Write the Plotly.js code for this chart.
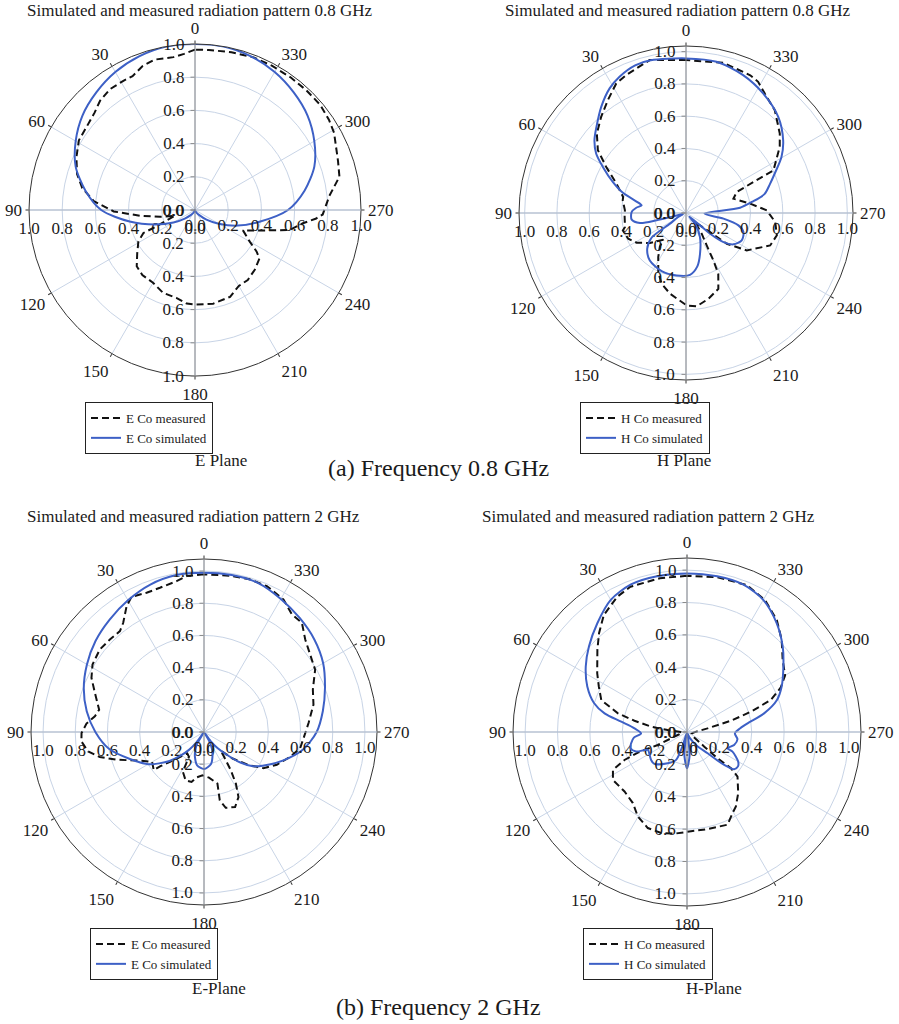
<!DOCTYPE html>
<html><head><meta charset="utf-8">
<script src="https://cdn.plot.ly/plotly-3.0.1.min.js"></script>
<style>html,body{margin:0;padding:0;background:#fff}#chart{width:899px;height:1024px}</style>
</head><body><div id="chart"></div>
<script>
// ---------- tick labels ----------
const angleTicks = [0,30,60,90,120,150,180,210,240,270,300,330];
const angleTickText = ['0','30','60','90','120','150','180','210','240','270','300','330'];
const radialTicks = [0,0.2,0.4,0.6,0.8,1.0];
const radialTickText = ['0.0','0.2','0.4','0.6','0.8','1.0'];

// ---------- (a) 0.8 GHz, E plane ----------
const thetaSimE08 = [0,10,20,30,40,50,60,70,80,90,100,110,120,130,140,150,160,170,180,190,200,210,220,230,240,250,260,270,280,290,300,310,320,330,340,350,360];
const rSimE08 = [1.00,1.00,0.985,0.96,0.925,0.885,0.83,0.765,0.67,0.565,0.40,0.255,0.15,0.08,0.04,0.02,0.01,0.004,0,0.004,0.01,0.02,0.04,0.09,0.165,0.275,0.40,0.56,0.67,0.765,0.83,0.885,0.925,0.96,0.985,1.00,1.00];
const thetaMeasE08 = [0,4,8,15,20,25,29,35,41,46,53,59,66,73,79,85,91,96,101,106,113,114,119,127,134,141,150,159,168,175,180,191,202,210,217,225,233,236,240,247,254,258,263,266,268,276,283,289,299,304,310,317,324,332,339,347,355,360];
const rMeasE08 = [0.966,0.943,0.93,0.938,0.923,0.89,0.89,0.89,0.872,0.842,0.822,0.816,0.782,0.743,0.692,0.612,0.49,0.332,0.214,0.125,0.251,0.34,0.39,0.436,0.488,0.504,0.506,0.535,0.541,0.566,0.57,0.575,0.564,0.528,0.528,0.509,0.486,0.447,0.381,0.314,0.446,0.582,0.655,0.732,0.77,0.814,0.893,0.911,0.958,0.973,0.985,0.985,0.985,0.985,0.985,0.975,0.968,0.966];

// ---------- (a) 0.8 GHz, H plane ----------
const thetaSimH08 = [0,13,19,26,31.5,38.6,46,51.5,56.5,61,67,72,78.5,80.2,84,89,97,102.3,104,104.7,110,118,123.7,125.7,132.7,142.7,157.2,171.5,183.7,192,199,210,219,224,228.6,229.3,232.2,236.5,243.8,251.7,256.7,261.4,268,275.6,279.5,283.5,289,294,300.4,306.8,316.2,327.2,337.5,348.6,360];
const rSimH08 = [0.958,0.971,0.968,0.94,0.906,0.842,0.771,0.725,0.668,0.589,0.493,0.415,0.292,0.279,0.31,0.337,0.339,0.292,0.187,0.082,0.02,0.06,0.119,0.263,0.327,0.37,0.39,0.391,0.384,0.338,0.267,0.173,0.098,0.03,0.116,0.197,0.294,0.352,0.385,0.375,0.334,0.235,0.114,0.337,0.414,0.5,0.55,0.602,0.686,0.752,0.826,0.882,0.925,0.956,0.958];
const thetaMeasH08 = [0,13.4,23.4,28.3,34.7,41.4,48.3,54.5,60,67.1,75.7,78.6,87.5,90.6,102.9,105.4,114,121,129.8,139.6,142,147.8,154.9,161,168.8,180.4,186.5,194.6,203.1,208,210,212.6,217.2,225,231.6,233,238.4,248.9,256.2,264.2,271.9,278.3,286.8,292.5,294.7,296,305.2,310.3,319.2,326.6,331.2,335,346,360];
const rMeasH08 = [0.948,0.974,0.932,0.912,0.851,0.795,0.74,0.671,0.571,0.468,0.402,0.40,0.379,0.381,0.388,0.406,0.392,0.357,0.291,0.217,0.263,0.323,0.405,0.464,0.51,0.573,0.582,0.55,0.511,0.426,0.339,0.238,0.161,0.079,0.19,0.317,0.442,0.559,0.58,0.556,0.501,0.402,0.307,0.341,0.461,0.603,0.711,0.762,0.842,0.887,0.928,0.942,0.959,0.948];

// ---------- (b) 2 GHz, E plane ----------
const thetaSimE2 = [0,10,20,30,40,50,60,70,80,90,100,110,120,125,130,135,140,144,148,150,155,160,168,180,192,200,206,210,212,216,220,225,230,235,240,250,260,270,280,290,300,310,320,330,340,350,360];
const rSimE2 = [0.99,0.99,0.975,0.945,0.912,0.88,0.84,0.795,0.74,0.675,0.60,0.49,0.40,0.34,0.28,0.21,0.145,0.08,0.005,0.09,0.13,0.165,0.21,0.23,0.205,0.155,0.11,0.06,0.005,0.07,0.13,0.2,0.295,0.37,0.42,0.52,0.625,0.70,0.75,0.80,0.855,0.895,0.925,0.955,0.985,0.99,0.99];
const thetaMeasE2 = [0,6.4,10.3,17,22.4,28.2,31.6,36.5,39.8,45.5,51.6,58.8,64.3,70.3,78,81.8,85.9,90.5,94.4,99.5,103.5,107.6,114.1,119.9,127.2,128.1,132.2,142,148.7,152.1,159.1,166,170.4,178,186.3,194.6,193,196,202.5,207.9,211.7,215,219,222,227.1,233.7,238.7,245.8,253.8,260.5,267.5,274.9,284,291.3,299.3,303.9,312.4,318.1,323.2,329,336.7,343.4,350,360];
const rMeasE2 = [0.98,0.975,0.953,0.937,0.936,0.953,0.918,0.844,0.816,0.82,0.826,0.81,0.776,0.72,0.666,0.685,0.732,0.761,0.764,0.73,0.666,0.57,0.436,0.372,0.392,0.344,0.267,0.169,0.18,0.28,0.321,0.32,0.287,0.27,0.285,0.331,0.436,0.49,0.505,0.458,0.377,0.29,0.198,0.155,0.242,0.349,0.432,0.496,0.557,0.606,0.623,0.652,0.701,0.726,0.792,0.807,0.852,0.911,0.912,0.96,0.987,0.99,0.985,0.98];

// ---------- (b) 2 GHz, H plane ----------
const thetaSimH2 = [0,10.9,20.8,30.1,39.5,48.9,57.1,65.5,72.7,77.3,81.1,86,91.7,96,101.4,106,111,114.6,121,127.9,134.4,148.3,158.6,162,165,170,174,180,186,190,195,205,215,224.1,228.5,231.7,236,240,246.7,248.1,254.6,261.8,268.4,274,278.1,283.6,289.6,295.7,304.2,311.7,320.5,329.9,339.2,349,360];
const rSimH2 = [0.98,0.98,0.975,0.942,0.871,0.804,0.745,0.677,0.602,0.522,0.411,0.325,0.284,0.33,0.352,0.363,0.337,0.266,0.27,0.281,0.282,0.227,0.185,0.1,0.01,0.05,0.15,0.224,0.15,0.05,0.01,0.04,0.1,0.183,0.307,0.371,0.38,0.365,0.306,0.27,0.302,0.315,0.296,0.33,0.378,0.49,0.59,0.649,0.72,0.792,0.871,0.942,0.975,0.98,0.98];
const thetaMeasH2 = [0,10,21.3,27.3,35.4,41.7,47.5,56.8,62.7,69.6,74.9,77.9,81.6,84.1,90,100,108,113.9,112.7,114.1,117.1,122.9,133.6,142.7,149.8,157.8,165.6,172.9,182.3,192,203.6,209.3,213.3,219.9,228.6,230.5,229.3,229.8,235,250,265,280,284.4,287.6,290.9,295.3,300,307,314.2,321.3,329.4,337.8,349,360];
const rMeasH2 = [0.965,0.965,0.963,0.94,0.887,0.817,0.751,0.663,0.613,0.565,0.442,0.332,0.224,0.12,0.04,0.03,0.06,0.198,0.329,0.423,0.514,0.545,0.533,0.552,0.604,0.641,0.644,0.633,0.614,0.613,0.625,0.575,0.55,0.493,0.416,0.352,0.249,0.14,0.04,0.03,0.04,0.129,0.28,0.414,0.554,0.64,0.70,0.74,0.816,0.887,0.947,0.98,0.975,0.965];

// ---------- text ----------
const subplotTitles = ['Simulated and measured radiation pattern 0.8 GHz','Simulated and measured radiation pattern 0.8 GHz','Simulated and measured radiation pattern 2 GHz','Simulated and measured radiation pattern 2 GHz'];
const planeLabels = ['E Plane','H Plane','E-Plane','H-Plane'];
const measNames = ['E Co measured','H Co measured','E Co measured','H Co measured'];
const simNames = ['E Co simulated','H Co simulated','E Co simulated','H Co simulated'];
const captions = ['(a) Frequency 0.8 GHz','(b) Frequency 2 GHz'];

// ---------- layout / styling ----------
const W = 899, H = 1024;
const FONT = 'Liberation Serif, "Times New Roman", serif';
const gridColor = 'rgb(200,212,230)';
const simColor = '#3d60c6';
const txt = '#1a1a1a';

const series = [
  {thS: thetaSimE08, rS: rSimE08, thM: thetaMeasE08, rM: rMeasE08},
  {thS: thetaSimH08, rS: rSimH08, thM: thetaMeasH08, rM: rMeasH08},
  {thS: thetaSimE2, rS: rSimE2, thM: thetaMeasE2, rM: rMeasE2},
  {thS: thetaSimH2, rS: rSimH2, thM: thetaMeasH2, rM: rMeasH2}
];
const geom = [
  {cx:195, cy:210, R:166, rmax:1.0,  tx:200, ty:10,  px:221, py:460, lx:85,  ly:402},
  {cx:686, cy:213, R:167, rmax:1.035,tx:678, ty:10,  px:684, py:460, lx:580, ly:402},
  {cx:204, cy:732, R:173, rmax:1.075,tx:193, ty:516, px:219, py:988, lx:90,  ly:928},
  {cx:687, cy:732, R:174, rmax:1.075,tx:648, ty:516, px:714, py:988, lx:583, ly:928}
];
const capPos = [{x:438, y:468}, {x:438, y:1007}];

function dom(g) {
  return {x:[(g.cx-g.R)/W, (g.cx+g.R)/W], y:[1-(g.cy+g.R)/H, 1-(g.cy-g.R)/H]};
}
function pid(n) { return n === 1 ? 'polar' : 'polar' + n; }

const tickFont = {family: FONT, size: 17, color: txt};
const radialBase = {
  tickmode: 'array', tickvals: radialTicks, ticktext: radialTickText,
  showgrid: false, showline: true, linewidth: 1, tickfont: tickFont, ticks: ''
};
const hiddenAngular = {visible: false, showgrid: false, showline: false, showticklabels: false, ticks: '', rotation: 90, direction: 'counterclockwise'};

const data = [];
const layout = {
  width: W, height: H, margin: {l:0, r:0, t:0, b:0},
  paper_bgcolor: '#fff', plot_bgcolor: '#fff',
  font: {family: FONT, color: txt},
  showlegend: true,
  annotations: []
};

geom.forEach((g, k) => {
  const base = 4*k + 1;
  const d = dom(g);
  const legendId = k === 0 ? 'legend' : 'legend' + (k+1);
  // main polar: grid, angular axis, left radial axis
  layout[pid(base)] = {
    domain: d, bgcolor: 'rgba(0,0,0,0)',
    angularaxis: {
      rotation: 90, direction: 'counterclockwise',
      tickmode: 'array', tickvals: angleTicks, ticktext: angleTickText,
      ticks: 'outside', ticklen: 3, tickcolor: '#333',
      showline: true, linecolor: '#333', linewidth: 1,
      showgrid: true, gridcolor: gridColor, gridwidth: 1,
      tickfont: tickFont
    },
    radialaxis: Object.assign({}, radialBase, {
      range: [0, g.rmax], angle: 180, side: 'counterclockwise', tickangle: 180,
      showgrid: true, gridcolor: gridColor, linecolor: 'rgb(175,185,200)', layer: 'below traces'
    })
  };
  // overlays: right, up, down
  const overlays = [
    {angle: 0,   side: 'clockwise',        tickangle: 0,   color: 'rgb(175,185,200)', ticks: ''},
    {angle: 90,  side: 'counterclockwise', tickangle: 90,  color: '#8a8a8a', ticks: 'outside'},
    {angle: 270, side: 'clockwise',        tickangle: -90, color: '#8a8a8a', ticks: 'outside'}
  ];
  overlays.forEach((o, j) => {
    layout[pid(base + j + 1)] = {
      domain: d, bgcolor: 'rgba(0,0,0,0)',
      angularaxis: hiddenAngular,
      radialaxis: Object.assign({}, radialBase, {
        range: [0, g.rmax], angle: o.angle, side: o.side, tickangle: o.tickangle,
        linecolor: o.color, ticks: o.ticks, ticklen: 4, tickcolor: o.color
      })
    };
    data.push({
      type: 'scatterpolar', subplot: pid(base + j + 1),
      r: series[k].rS, theta: series[k].thS,
      mode: 'lines', line: {width: 0, color: 'rgba(0,0,0,0)'},
      opacity: 0, showlegend: false, hoverinfo: 'skip'
    });
  });
  // data traces
  data.push({
    type: 'scatterpolar', subplot: pid(base), legend: legendId,
    name: measNames[k], r: series[k].rM, theta: series[k].thM,
    mode: 'lines', line: {color: '#111', width: 2, dash: '7px,4px'}
  });
  data.push({
    type: 'scatterpolar', subplot: pid(base), legend: legendId,
    name: simNames[k], r: series[k].rS, theta: series[k].thS,
    mode: 'lines', line: {color: simColor, width: 2, shape: 'spline', smoothing: 0.8}
  });
  layout[legendId] = {
    x: g.lx / W, y: 1 - g.ly / H, xanchor: 'left', yanchor: 'top',
    bgcolor: 'rgba(255,255,255,0)', bordercolor: '#222', borderwidth: 1,
    font: {family: FONT, size: 13, color: txt}, tracegroupgap: 0, itemwidth: 30
  };
  layout.annotations.push({
    text: subplotTitles[k], xref: 'paper', yref: 'paper', x: g.tx / W, y: 1 - g.ty / H,
    xanchor: 'center', yanchor: 'middle', showarrow: false, font: {family: FONT, size: 17, color: txt}
  });
  layout.annotations.push({
    text: planeLabels[k], xref: 'paper', yref: 'paper', x: g.px / W, y: 1 - g.py / H,
    xanchor: 'center', yanchor: 'middle', showarrow: false, font: {family: FONT, size: 17, color: txt}
  });
});
captions.forEach((c, i) => {
  layout.annotations.push({
    text: c, xref: 'paper', yref: 'paper', x: capPos[i].x / W, y: 1 - capPos[i].y / H,
    xanchor: 'center', yanchor: 'middle', showarrow: false, font: {family: FONT, size: 24, color: txt}
  });
});

Plotly.newPlot('chart', data, layout, {staticPlot: true, displayModeBar: false});
</script>
</body></html>
